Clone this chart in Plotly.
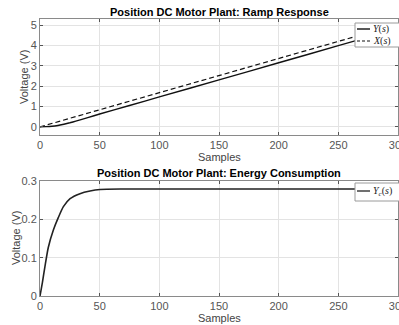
import plotly.graph_objects as go
from plotly.subplots import make_subplots

# ---- data ----
ramp_samples = [0, 50, 100, 150, 200, 250, 300]
ramp_x = [0.0, 0.84, 1.68, 2.52, 3.36, 4.20, 5.04]

resp_samples = [0, 5, 10, 15, 20, 25, 30, 40, 50, 75, 100, 150, 200, 250, 300]
resp_y = [0.0, 0.01, 0.03, 0.07, 0.13, 0.20, 0.28, 0.45, 0.63, 1.05, 1.47, 2.31, 3.15, 3.99, 4.83]

energy_samples = [0, 2.0, 4.2, 6.9, 11.2, 15.4, 19.6, 25.2, 33.5, 41.9, 50.3, 70, 100, 150, 200, 250, 300]
energy_y = [0.0, 0.035, 0.078, 0.126, 0.172, 0.205, 0.233, 0.254, 0.267, 0.274, 0.278,
            0.279, 0.279, 0.279, 0.279, 0.279, 0.279]

x_ticks = [0, 50, 100, 150, 200, 250, 300]
y_ticks_top = [0, 1, 2, 3, 4, 5]
y_ticks_bot = [0, 0.1, 0.2, 0.3]

W, H = 399, 325
def px(x):
    return x / W
def py(y):
    return 1 - y / H

fig = make_subplots(rows=2, cols=1)
fig.add_trace(go.Scatter(x=resp_samples, y=resp_y, mode="lines",
                         line=dict(color="#111111", width=1.4, shape="spline", smoothing=0.6),
                         showlegend=False), row=1, col=1)
fig.add_trace(go.Scatter(x=ramp_samples, y=ramp_x, mode="lines",
                         line=dict(color="#111111", width=1.2, dash="5px,3px"),
                         showlegend=False), row=1, col=1)
fig.add_trace(go.Scatter(x=energy_samples, y=energy_y, mode="lines",
                         line=dict(color="#222222", width=1.6, shape="spline", smoothing=0.6),
                         showlegend=False), row=2, col=1)

axis_common = dict(showline=True, linecolor="#8a8a8a", linewidth=1, mirror="ticks",
                   ticks="inside", ticklen=3, tickcolor="#555555", automargin=False,
                   ticklabeloverflow="allow",
                   showgrid=True, gridcolor="#e3e3e3", gridwidth=1, zeroline=False,
                   tickfont=dict(family="Liberation Sans, Arial", size=11, color="#555555"))

fig.update_xaxes(**axis_common, range=[0, 300], tickvals=x_ticks,
                 domain=[px(40), px(398)])
fig.update_yaxes(**axis_common)

fig.update_yaxes(range=[-0.4, 5.3], tickvals=y_ticks_top,
                 domain=[py(135), py(19)], row=1, col=1)
fig.update_yaxes(range=[0, 0.3], tickvals=y_ticks_bot, ticktext=["0", "0.1", "0.2", "0.3"],
                 domain=[py(296), py(181)], row=2, col=1)

title_font = dict(family="Liberation Sans, Arial", size=11, color="#000000")
label_font = dict(family="Liberation Sans, Arial", size=11, color="#444444")
legend_font = dict(family="Liberation Serif, Times New Roman", size=10, color="#222222")

def ann(text, x, y, font, xanchor="center", angle=0):
    return dict(text=text, x=px(x), y=py(y), xref="paper", yref="paper",
                xanchor=xanchor, yanchor="middle", showarrow=False,
                textangle=angle, font=font)

annotations = [
    ann("<b>Position DC Motor Plant: Ramp Response</b>", 219, 12, title_font),
    ann("<b>Position DC Motor Plant: Energy Consumption</b>", 219, 173, title_font),
    ann("Samples", 219, 157, label_font),
    ann("Samples", 219, 318, label_font),
    ann("Voltage (V)", 24, 77, label_font, angle=-90),
    ann("Voltage (V)", 16, 238, label_font, angle=-90),
    # legend texts
    ann("<i>Y</i>(<i>s</i>)", 371, 29, legend_font, xanchor="left"),
    ann("<i>X</i>(<i>s</i>)", 371, 41, legend_font, xanchor="left"),
    ann("<i>Y</i><sub><i>c</i></sub>(<i>s</i>)", 371, 191, legend_font, xanchor="left"),
]

shapes = [
    # top legend box
    dict(type="rect", xref="paper", yref="paper", x0=px(355), x1=px(410), y0=py(47), y1=py(23),
         fillcolor="white", line=dict(color="#9a9a9a", width=1)),
    dict(type="line", xref="paper", yref="paper", x0=px(357), x1=px(370), y0=py(29), y1=py(29),
         line=dict(color="#111111", width=1.4)),
    dict(type="line", xref="paper", yref="paper", x0=px(357), x1=px(370), y0=py(41), y1=py(41),
         line=dict(color="#111111", width=1.2, dash="3px,2px")),
    # bottom legend box
    dict(type="rect", xref="paper", yref="paper", x0=px(355), x1=px(410), y0=py(201), y1=py(183),
         fillcolor="white", line=dict(color="#9a9a9a", width=1)),
    dict(type="line", xref="paper", yref="paper", x0=px(357), x1=px(370), y0=py(191), y1=py(191),
         line=dict(color="#222222", width=1.3)),
]

fig.update_layout(width=W, height=H, margin=dict(l=0, r=0, t=0, b=0, autoexpand=False),
                  paper_bgcolor="white", plot_bgcolor="white",
                  annotations=annotations, shapes=shapes, showlegend=False)

fig.write_html("out.html", config={"displayModeBar": False, "staticPlot": True},
               post_script="document.body.style.margin='0';document.body.style.overflow='hidden';")
